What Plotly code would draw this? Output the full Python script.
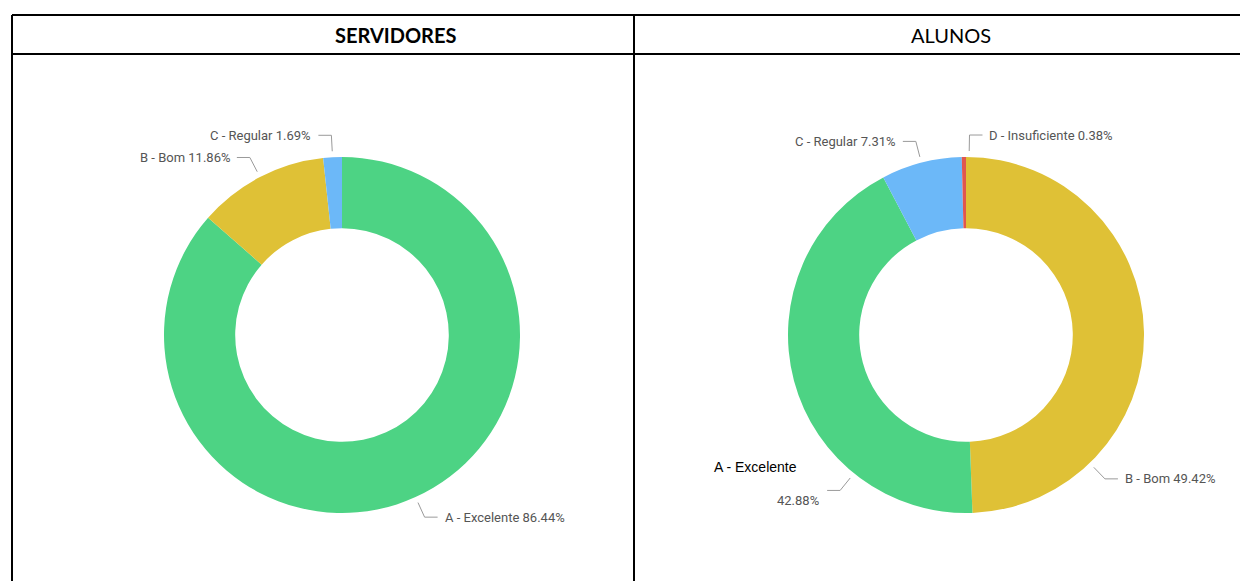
import math
import plotly.graph_objects as go

# ---------------- data ----------------
serv_labels = ["A - Excelente", "B - Bom", "C - Regular"]
serv_values = [86.44, 11.86, 1.69]

alunos_labels = ["B - Bom", "A - Excelente", "C - Regular", "D - Insuficiente"]
alunos_values = [49.42, 42.88, 7.31, 0.38]

header_titles = ["SERVIDORES", "ALUNOS"]

# ---------------- style ----------------
W, H = 1248, 581
OFF = 8  # default body margin of the page
COLORS = {
    "A - Excelente": "#4dd384",
    "B - Bom": "#dfc136",
    "C - Regular": "#6cb8f8",
    "D - Insuficiente": "#e0574f",
}
R = 178
HOLE = 0.6
CENTERS = [(342, 335), (966, 335)]
LABEL_FONT = dict(family="Roboto", size=13, color="#555555")
LINE_COLOR = "#9a9a9a"
# label anchor angle overrides (Power BI moves some labels off the slice middle)
ANGLE_OVERRIDE = [{}, {"B - Bom": 136.0, "A - Excelente": 219.0, "D - Insuficiente": 1.0}]


def px(x):
    return (x - OFF) / W


def py(y):
    return 1 - (y - OFF) / H


fig = go.Figure()
annotations = []
shapes = []

charts = [(serv_labels, serv_values), (alunos_labels, alunos_values)]
for i, (labels, values) in enumerate(charts):
    cx, cy = CENTERS[i]
    fig.add_trace(go.Pie(
        labels=labels, values=values, hole=HOLE, sort=False,
        direction="clockwise", rotation=0, textinfo="none",
        marker=dict(colors=[COLORS[l] for l in labels], line=dict(width=0)),
        domain=dict(x=[px(cx - R), px(cx + R)], y=[py(cy + R), py(cy - R)]),
        showlegend=False, hoverinfo="label+percent",
    ))
    total = sum(values)
    cum = 0.0
    for lab, v in zip(labels, values):
        mid = (cum + v / 2) / total * 360.0
        cum += v
        ang = ANGLE_OVERRIDE[i].get(lab, mid)
        a = math.radians(ang)
        sx, sy = math.sin(a), -math.cos(a)
        x0, y0 = cx + (R + 6) * sx, cy + (R + 6) * sy
        x1, y1 = cx + (R + 22) * sx, cy + (R + 22) * sy
        side = 1 if sx >= 0 else -1
        x2 = x1 + side * 13
        shapes.append(dict(
            type="path", xref="paper", yref="paper",
            path=f"M {px(x0)} {py(y0)} L {px(x1)} {py(y1)} L {px(x2)} {py(y1)}",
            line=dict(color=LINE_COLOR, width=1),
        ))
        pct = f"{v:.2f}%"
        if i == 1 and lab == "A - Excelente":
            annotations.append(dict(
                x=px(x2 - 6), y=py(y1 + 10), xref="paper", yref="paper",
                text=pct, showarrow=False, xanchor="right", yanchor="middle",
                font=LABEL_FONT))
            annotations.append(dict(
                x=px(x2 - 28), y=py(y1 - 23), xref="paper", yref="paper",
                text=lab, showarrow=False, xanchor="right", yanchor="middle",
                font=dict(family="Liberation Sans", size=14, color="#000000")))
        else:
            annotations.append(dict(
                x=px(x2 + side * 5), y=py(y1), xref="paper", yref="paper",
                text=f"{lab} {pct}", showarrow=False,
                xanchor="left" if side > 0 else "right", yanchor="middle",
                font=LABEL_FONT))

# ---------------- table frame ----------------
TL = dict(color="black", width=2)
for (xa, ya, xb, yb) in [(12, 15, W + 20, 15), (12, 54, W + 20, 54),
                         (12, 15, 12, H + 20), (634, 15, 634, H + 20)]:
    shapes.append(dict(type="line", xref="paper", yref="paper",
                       x0=px(xa), y0=py(ya), x1=px(xb), y1=py(yb), line=TL))

annotations.append(dict(x=px(395), y=py(35), xref="paper", yref="paper",
                        text=f"<b>{header_titles[0]}</b>", showarrow=False,
                        xanchor="center", yanchor="middle",
                        font=dict(family="Lato", size=20, color="black")))
annotations.append(dict(x=px(951), y=py(35), xref="paper", yref="paper",
                        text=header_titles[1], showarrow=False,
                        xanchor="center", yanchor="middle",
                        font=dict(family="Lato", size=20, color="black")))

fig.update_layout(
    width=W, height=H, margin=dict(l=0, r=0, t=0, b=0),
    paper_bgcolor="white", plot_bgcolor="white",
    shapes=shapes, annotations=annotations,
)
fig.write_html("out.html")
